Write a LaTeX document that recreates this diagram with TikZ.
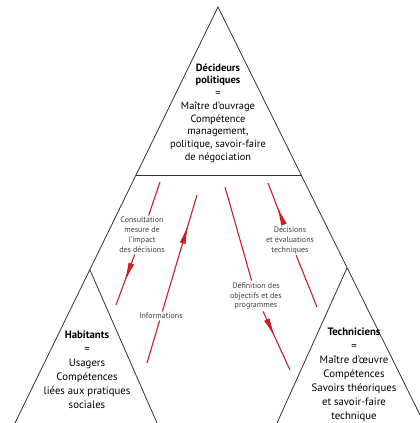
\documentclass[tikz,border=0pt]{standalone}
\usepackage{fontspec}
\setmainfont{PT Sans}
\usetikzlibrary{arrows.meta,decorations.markings,positioning}

\definecolor{rouge}{RGB}{200,32,38}

\tikzset{
  bord/.style={draw=black!80, line width=0.8pt},
  trait/.style={draw=rouge, line width=1.1pt},
  fleche/.style={trait, postaction={decorate},
    decoration={markings, mark=at position #1 with {\arrow{Latex[length=20pt,width=6pt]}}}},
  acteur/.style={align=center, inner sep=0pt, font=\fontsize{10.5}{12.8}\selectfont},
  echange/.style={align=center, inner sep=1.5pt, text=black!75, font=\fontsize{8}{10}\selectfont},
}

\begin{document}
\begin{tikzpicture}[x=1bp,y=-1bp]
\useasboundingbox (0,0) rectangle (420,423);

% sommets de la pyramide
\coordinate (sommet) at (218,7);
\coordinate (gauche) at (15,423);
\coordinate (droite) at (424,423);
\coordinate (hg) at (136,175);
\coordinate (hd) at (301,175);
\coordinate (sh) at (90,270);
\coordinate (bh) at (157,423);
\coordinate (st) at (347,268);
\coordinate (bt) at (277,423);

\begin{scope}
  \clip (0,0) rectangle (420,423);
  \draw[bord] (gauche) -- (sommet) -- (droite);
  \draw[bord] (hg) -- (hd);
  \draw[bord] (sh) -- (bh);
  \draw[bord] (st) -- (bt);
\end{scope}

% acteurs
\node[acteur] (decideurs) at (218,113)
  {\textbf{Décideurs}\\\textbf{politiques}\\=\\Maître d'ouvrage\\Compétence\\management,\\politique, savoir-faire\\de négociation};
\node[acteur, font=\fontsize{10.8}{14}\selectfont] (habitants) at (87,370)
  {\textbf{Habitants}\\=\\Usagers\\Compétences\\liées aux pratiques\\sociales};
\node[acteur, font=\fontsize{10.8}{14}\selectfont] (techniciens) at (354,375)
  {\textbf{Techniciens}\\=\\Maître d'œuvre\\Compétences\\Savoirs théoriques\\et savoir-faire\\technique};

% echanges
\node[echange] (consultation) at (142,235) {Consultation\\mesure de\\l'impact\\des décisions};
\node[echange] (informations) at (161,316) {Informations};
\node[echange] (definition) at (256,296) {Définition des\\objectifs et des\\programmes};
\node[echange] (decisions) at (290,240) {Décisions\\et évaluations\\techniques};

\coordinate (c1) at (160,182);
\coordinate (c2) at (116,305);
\coordinate (i1) at (147,363);
\coordinate (i2) at (197,195);
\coordinate (d1) at (225,187);
\coordinate (d2) at (290,370);
\coordinate (e1) at (317,307);
\coordinate (e2) at (268,183);

\draw[trait] (c1) -- (consultation);
\draw[fleche=0.55] (consultation) -- (c2);
\draw[trait] (i1) -- (informations);
\draw[fleche=0.75] (informations) -- (i2);
\draw[trait] (d1) -- (definition);
\draw[fleche=0.45] (definition) -- (d2);
\draw[trait] (e1) -- (decisions);
\draw[fleche=0.45] (decisions) -- (e2);
\end{tikzpicture}
\end{document}
